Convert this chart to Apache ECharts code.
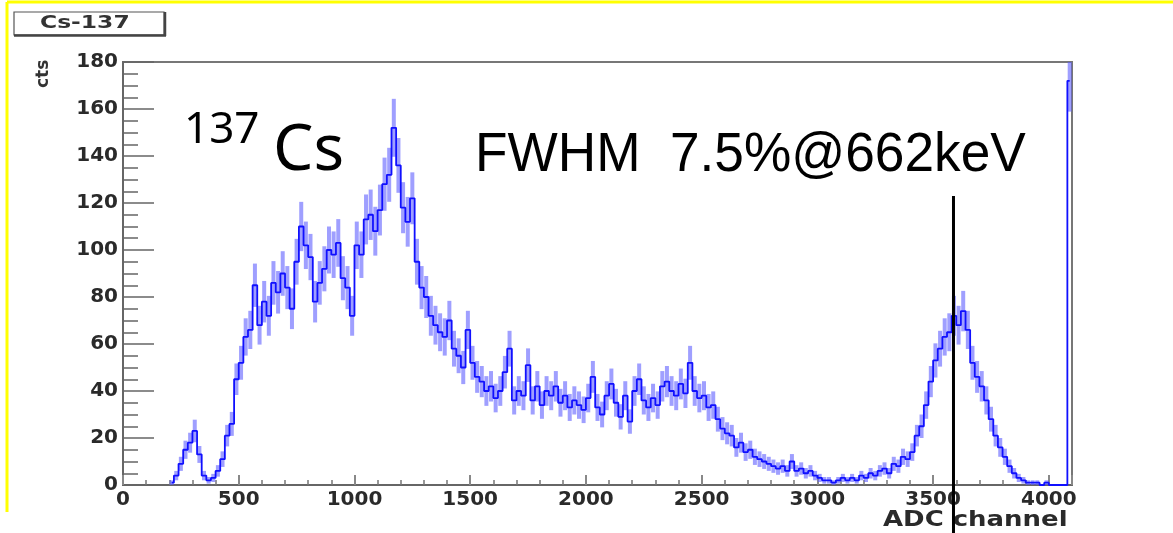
<!DOCTYPE html>
<html>
<head>
<meta charset="utf-8">
<script src="https://cdn.jsdelivr.net/npm/echarts@6/dist/echarts.min.js"></script>
<style>
html,body{margin:0;padding:0;background:#fff;}
#chart{width:1173px;height:533px;}
</style>
</head>
<body>
<div id="chart"></div>
<script>
// ---- Data ----
const FIRST_BIN = 200;      // ADC channel where the list of counts starts
const BIN_WIDTH = 20;       // ADC channels per bin
const counts = [
  1, 4, 9, 15, 18, 23, 13, 4, 2, 3,
  6, 11, 21, 26, 45, 52, 63, 66, 85, 68,
  78, 72, 86, 82, 90, 84, 75, 95, 110, 102,
  97, 78, 86, 92, 100, 98, 103, 88, 84, 72,
  102, 98, 113, 115, 108, 117, 128, 132, 152, 136,
  118, 112, 122, 95, 84, 80, 72, 68, 65, 63,
  70, 58, 55, 50, 66, 52, 46, 44, 40, 42,
  37, 40, 48, 58, 36, 40, 38, 51, 36, 42,
  34, 40, 38, 42, 35, 38, 33, 36, 34, 32,
  37, 46, 33, 30, 38, 43, 35, 29, 38, 27,
  40, 45, 36, 33, 37, 34, 42, 44, 40, 38,
  43, 39, 52, 40, 37, 38, 33, 34, 28, 24,
  22, 21, 16, 18, 14, 15, 12, 11, 10, 9,
  8, 7, 8, 6, 10, 6, 7, 5, 6, 4,
  3, 2, 2, 1, 2, 3, 2, 3, 2, 4,
  3, 5, 4, 6, 7, 5, 9, 8, 12, 11,
  14, 21, 25, 34, 44, 53, 58, 63, 65, 72,
  68, 74, 66, 52, 46, 42, 36, 28, 21, 16,
  12, 8, 5, 3, 2, 1, 1, 1, 0, 1,
  0, 0, 0, 0, 172
];
const xTicks = [0, 500, 1000, 1500, 2000, 2500, 3000, 3500, 4000];
const yTicks = [0, 20, 40, 60, 80, 100, 120, 140, 160, 180];
const peakChannel = 3588;   // marker line at the 662 keV photopeak
const peakLineTop = 123;    // counts level where the marker line starts
const title = 'Cs-137';
const xName = 'ADC channel';
const yName = 'cts';
const isotopeMass = '137';
const isotopeSymbol = 'Cs';
const fwhmText = 'FWHM  7.5%@662keV';

// ---- Build series data ----
const histData = counts.map((v, i) => [FIRST_BIN + i * BIN_WIDTH + BIN_WIDTH / 2, v]);
const errData = counts.map((v, i) => [FIRST_BIN + i * BIN_WIDTH + BIN_WIDTH / 2, v, Math.sqrt(v)]);

const chart = echarts.init(document.getElementById('chart'), null, {renderer: 'canvas'});
const axisFont = {fontFamily: 'DejaVu Sans', fontWeight: 'bold', fontSize: 20, color: '#2a2a2a'};

const baseGraphics = [
  // yellow frame edges
  {type: 'line', shape: {x1: 7, y1: 2, x2: 1173, y2: 2}, style: {stroke: '#ffff00', lineWidth: 3}, z: 10},
  {type: 'line', shape: {x1: 7, y1: 2, x2: 7, y2: 512}, style: {stroke: '#ffff00', lineWidth: 3}, z: 10},
  // title box
  {type: 'rect', shape: {x: 14, y: 12, width: 150, height: 23}, style: {fill: '#fff', stroke: '#555', lineWidth: 1.2}, z: 10},
  {type: 'line', shape: {x1: 165, y1: 12, x2: 165, y2: 36}, style: {stroke: '#444', lineWidth: 2.5}, z: 10},
  {type: 'line', shape: {x1: 14, y1: 35.5, x2: 166, y2: 35.5}, style: {stroke: '#444', lineWidth: 2.5}, z: 10},
  {type: 'text', x: 40, y: 14, scaleX: 1.3, z: 11,
    style: {text: title, fontFamily: 'DejaVu Sans', fontWeight: 'bold', fontSize: 18, fill: '#333', textAlign: 'left', textVerticalAlign: 'top'}},
  // axis titles
  {type: 'text', x: 35, y: 88, rotation: Math.PI / 2, z: 11,
    style: {text: yName, fontFamily: 'DejaVu Sans', fontWeight: 'bold', fontSize: 17, fill: '#333', textAlign: 'left', textVerticalAlign: 'top'}},
  {type: 'text', x: 883, y: 509, scaleX: 1.18, z: 11,
    style: {text: xName, fontFamily: 'DejaVu Sans', fontWeight: 'bold', fontSize: 22, fill: '#2a2a2a', textAlign: 'left', textVerticalAlign: 'top'}},
  // annotations
  {type: 'text', x: 184, y: 152, z: 11,
    style: {text: isotopeMass, fontFamily: 'Noto Sans', fontSize: 44, fill: '#000', textAlign: 'left', textVerticalAlign: 'bottom'}},
  {type: 'text', x: 273, y: 184, z: 11,
    style: {text: isotopeSymbol, fontFamily: 'Noto Sans', fontSize: 64, fill: '#000', textAlign: 'left', textVerticalAlign: 'bottom'}},
  {type: 'text', x: 475, y: 184, scaleX: 0.95, z: 11,
    style: {text: fwhmText, fontFamily: 'Liberation Sans', fontSize: 56, fill: '#000', textAlign: 'left', textVerticalAlign: 'bottom'}}
];

const option = {
  animation: false,
  backgroundColor: '#ffffff',
  grid: {left: 123, right: 101, top: 62, bottom: 48, show: true, borderColor: '#777', borderWidth: 2, backgroundColor: 'transparent'},
  xAxis: {
    type: 'value', min: 0, max: 4100, interval: 500,
    axisLine: {show: true, lineStyle: {color: '#666', width: 2}},
    axisTick: {show: true, inside: true, length: 10, lineStyle: {color: '#888', width: 2}},
    minorTick: {show: true, splitNumber: 5, length: 5, lineStyle: {color: '#777', width: 1.5}},
    splitLine: {show: false},
    axisLabel: Object.assign({margin: 5, formatter: v => (xTicks.indexOf(v) >= 0 ? String(v) : '')}, axisFont)
  },
  yAxis: {
    type: 'value', min: 0, max: 180, interval: 20,
    axisLine: {show: true, lineStyle: {color: '#666', width: 2}},
    axisTick: {show: true, inside: true, length: 31, lineStyle: {color: '#666', width: 1.5}},
    minorTick: {show: true, splitNumber: 4, length: 15, lineStyle: {color: '#666', width: 1.5}},
    splitLine: {show: false},
    axisLabel: Object.assign({margin: 5, formatter: v => (yTicks.indexOf(v) >= 0 ? String(v) : '')}, axisFont)
  },
  series: [
    {
      type: 'custom',
      name: 'errors',
      clip: true,
      z: 2,
      data: errData,
      renderItem: function (params, api) {
        const x = api.value(0), v = api.value(1), e = api.value(2);
        if (!(e > 0)) return null;
        const top = api.coord([x, v + e]);
        const bot = api.coord([x, Math.max(0, v - e)]);
        return {
          type: 'line',
          shape: {x1: top[0], y1: top[1], x2: bot[0], y2: bot[1]},
          style: {stroke: 'rgba(95,95,255,0.6)', lineWidth: 4}
        };
      }
    },
    {
      type: 'line',
      name: 'Cs-137',
      step: 'middle',
      showSymbol: false,
      symbol: 'none',
      z: 3,
      data: histData,
      lineStyle: {color: '#1010ff', width: 1.8}
    }
  ],
  graphic: baseGraphics
};
chart.setOption(option);

// Marker line at the photopeak: positioned through the chart's own scales,
// running from the given count level down past the axis to the page bottom.
const pTop = chart.convertToPixel({gridIndex: 0}, [peakChannel, peakLineTop]);
chart.setOption({
  graphic: baseGraphics.concat([
    {type: 'line', z: 12, shape: {x1: pTop[0], y1: pTop[1], x2: pTop[0], y2: 533},
      style: {stroke: '#000', lineWidth: 3}}
  ])
});
</script>
</body>
</html>
